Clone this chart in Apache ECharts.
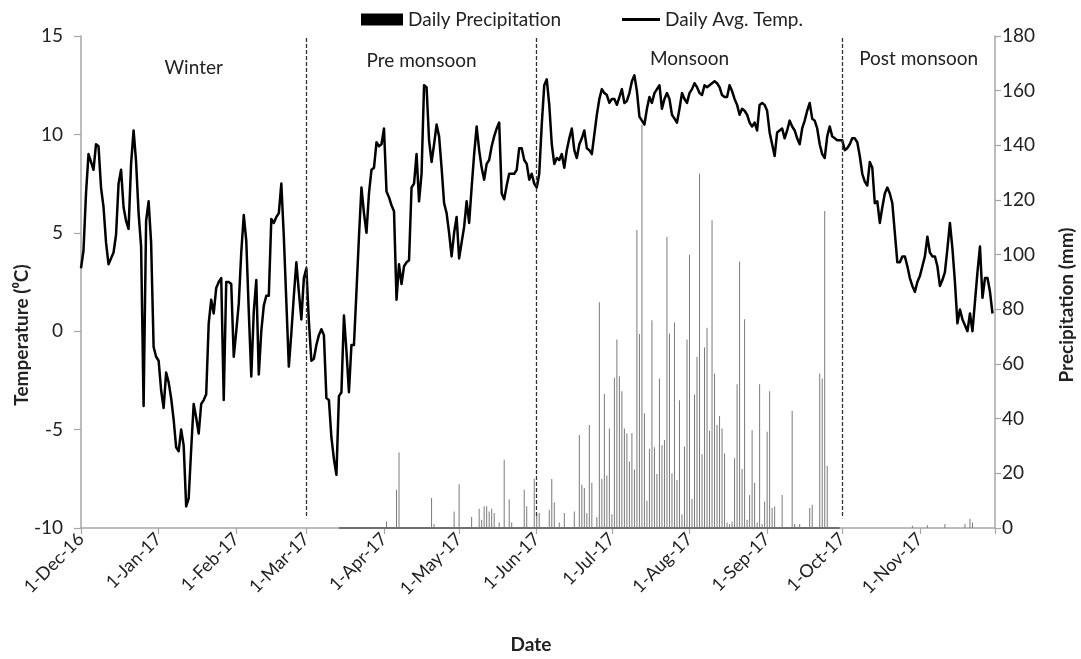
<!DOCTYPE html>
<html><head><meta charset="utf-8">
<script src="https://cdn.jsdelivr.net/npm/echarts@6/dist/echarts.min.js"></script>
<style>html,body{margin:0;padding:0;background:#fff}#c{width:1081px;height:659px}</style>
</head><body><div id="c"></div>
<script>
// ---- categories (daily dates, 1-Dec-16 .. 1-Dec-17) ----
const monthNames = ['Jan','Feb','Mar','Apr','May','Jun','Jul','Aug','Sep','Oct','Nov','Dec'];
const startDate = Date.UTC(2016, 11, 1);
const dayCount = 366;
const categories = [];
for (let i = 0; i < dayCount; i++) {
  const dt = new Date(startDate + i * 86400000);
  categories.push(dt.getUTCDate() + '-' + monthNames[dt.getUTCMonth()] + '-' + String(dt.getUTCFullYear()).slice(2));
}

// ---- daily average temperature (°C) ----
const tempDec = [3.2,4.1,7.0,9.0,8.6,8.2,9.5,9.4,7.3,6.3,4.5,3.4,3.7,4.0,4.9,7.5,8.2,6.3,5.6,5.2,8.5,10.2,8.6,6.0,4.3,-3.8,5.6,6.6,4.5,-0.8,-1.3];
const tempJan = [-1.5,-3.0,-3.9,-2.1,-2.6,-3.4,-4.5,-5.9,-6.1,-5.0,-5.8,-8.9,-8.5,-6.0,-3.7,-4.4,-5.2,-3.7,-3.5,-3.2,0.4,1.6,0.9,2.2,2.5,2.7,-3.5,2.5,2.5,2.4,-1.3];
const tempFeb = [0.0,1.4,4.0,5.9,4.6,1.0,-2.3,1.0,2.6,-2.2,0.0,1.3,1.8,1.8,5.7,5.5,5.8,6.0,7.5,4.8,1.5,-1.8,-0.1,1.8,3.5,2.0,0.6,2.7];
const tempMar = [3.2,0.5,-1.5,-1.4,-0.7,-0.2,0.1,-0.2,-3.4,-3.5,-5.4,-6.5,-7.3,-3.3,-3.1,0.8,-1.0,-3.1,-0.7,-0.7,2.0,4.8,7.3,6.0,5.0,7.0,8.2,8.3,9.6,9.4,9.5];
const tempApr = [10.3,7.1,6.8,6.4,6.1,1.6,3.4,2.4,3.3,3.5,3.6,7.3,7.5,9.0,6.6,8.0,12.5,12.4,9.7,8.6,9.5,10.5,9.9,8.3,6.5,6.0,5.0,3.8,5.0,5.8];
const tempMay = [3.7,4.5,5.3,6.6,5.5,7.3,9.0,10.4,9.2,8.3,7.7,8.5,8.7,9.4,9.9,10.3,10.6,7.0,6.7,7.4,8.0,8.0,8.0,8.2,9.3,9.3,8.7,8.5,7.7,8.0,7.5];
const tempJun = [7.3,8.0,10.5,12.5,12.8,11.5,9.5,8.5,8.8,8.7,9.0,8.3,9.2,9.8,10.3,9.2,8.8,9.5,9.8,10.2,9.3,9.2,9.0,10.0,11.0,11.8,12.3,12.1,12.0,11.6];
const tempJul = [11.8,11.8,11.5,11.9,12.3,11.6,11.7,12.1,12.7,13.0,12.2,10.9,10.7,10.5,11.3,11.9,11.6,12.1,12.3,12.5,11.3,11.8,12.1,11.8,11.0,10.8,10.6,11.3,12.1,11.8,11.6];
const tempAug = [12.1,12.3,12.6,12.4,12.1,12.0,12.5,12.4,12.5,12.6,12.7,12.6,12.4,12.0,11.9,11.9,12.5,12.2,11.8,11.5,11.0,11.3,11.2,11.0,10.6,10.4,10.6,10.2,11.5,11.6,11.5];
const tempSep = [11.2,10.1,9.5,8.9,10.1,10.2,10.3,9.8,10.2,10.7,10.4,10.2,9.8,9.5,10.3,10.7,11.2,11.6,10.8,10.7,10.3,9.5,9.0,8.8,9.9,10.4,9.9,9.8,9.7,9.7];
const tempOct = [9.7,9.2,9.3,9.5,9.8,9.8,9.6,8.9,8.0,7.6,7.4,8.6,8.3,6.5,6.6,5.5,6.3,7.0,7.3,7.0,6.5,5.0,3.5,3.5,3.8,3.8,3.3,2.7,2.3,2.0,2.5];
const tempNov = [2.8,3.3,3.8,4.8,4.0,3.8,3.8,3.3,2.3,2.6,3.0,4.2,5.5,4.2,2.5,0.4,1.1,0.6,0.3,0.0,0.9,0.0,1.5,3.0,4.3,1.7,2.7,2.7,2.0,0.9];

// ---- daily precipitation (mm); null = no record ----
const precDec = new Array(31).fill(null);
const precJan = new Array(31).fill(null);
const precFeb = new Array(28).fill(null);
const precMar = [null,null,null,null,null,null,null,null,null,null,null,null,null,0,0,0,0,0,0,0,0,0,0,0,0,0,0,0,0,0,0];
const precApr = [0,2.4,0,0,0,14,27.6,0,0,0,0,0,0,0,0,0,0,0,0,11,1.5,0,0,0,0,0,0,0,6,0];
const precMay = [16,0,0,0,0,4,0,0,7,3,8,8,6,7,5.5,0,2,0,25,0,10.5,2,0,0,0,0,14,8,0,0,18];
const precJun = [5,5.5,0,0,0,6.7,17.9,9.4,0,2,0,5.5,0,0,0,6,0,34,15.8,14.6,5.5,37.7,16.6,0,4,82.6,18,49,19.2,36.4];
const precJul = [5,55,69,55.5,50,36.4,34.6,24.3,34.8,21.4,109,71,147.5,42,10,29,76,29.5,19.8,54.7,30.3,32.2,106.5,71.2,20,75.2,17.6,46.7,5,29.8,69];
const precAug = [100,10.6,48.8,62.6,129.6,27,66,73.3,35.6,112.6,56.5,37.7,41,36.4,27.3,2,1.5,2.4,25.5,52.6,97.5,21.6,76.4,3,12.1,35.8,16.6,2,52.6,1.5,9.7];
const precSep = [35.2,50,7.3,7.9,0,0,12.1,0,0,0,42.9,1.5,0,1.5,0,0,0,7.3,8.5,0,0,56.5,54.7,116,22.7,0,0,0,0,0];
const precOct = [null,null,null,null,null,null,null,null,null,null,null,null,null,null,null,null,null,null,null,null,null,null,null,null,null,null,null,null,0.8,null,null];
const precNov = [null,null,null,1.0,null,null,null,null,null,null,1.5,null,null,null,null,null,null,null,1.5,null,3.4,2.0,null,null,null,null,null,null,null,null];

const temperature = [].concat(tempDec,tempJan,tempFeb,tempMar,tempApr,tempMay,tempJun,tempJul,tempAug,tempSep,tempOct,tempNov);
const precipitation = [].concat(precDec,precJan,precFeb,precMar,precApr,precMay,precJun,precJul,precAug,precSep,precOct,precNov);

// ---- seasons ----
const seasonNames = ['Winter','Pre monsoon','Monsoon','Post monsoon'];
const seasonBounds = ['1-Dec-16','1-Mar-17','1-Jun-17','1-Oct-17','1-Dec-17'];
const seasonLabelDistance = [22, 15, 13, 13];
const dividerDates = ['1-Mar-17','1-Jun-17','1-Oct-17'];
const recordSpan = ['14-Mar-17','30-Sep-17'];

const FONT = 'Lato';
const chart = echarts.init(document.getElementById('c'), null, {renderer:'canvas'});
const isMonthStart = (i, v) => v.indexOf('1-') === 0;

chart.setOption({
  animation: false,
  backgroundColor: '#fff',
  textStyle: {fontFamily: FONT},
  grid: {left: 81, right: 86, top: 36, bottom: 131},
  legend: [
    {data: [{name: 'Daily Precipitation', icon: 'rect', itemStyle: {color: '#000'}}],
     left: 361, top: 10, padding: 0, itemWidth: 42, itemHeight: 12,
     textStyle: {fontFamily: FONT, fontSize: 19, color: '#222'}},
    {data: [{name: 'Daily Avg. Temp.', icon: 'rect', itemStyle: {color: '#000'}}],
     left: 622, top: 10, padding: 0, itemWidth: 38, itemHeight: 3,
     textStyle: {fontFamily: FONT, fontSize: 19, color: '#222'}}
  ],
  xAxis: {
    type: 'category', data: categories, boundaryGap: false,
    axisLine: {onZero: false, lineStyle: {color: '#a6a6a6', width: 1.5}},
    axisTick: {interval: isMonthStart, length: 6, lineStyle: {color: '#a6a6a6', width: 1.2}},
    axisLabel: {interval: (i, v) => isMonthStart(i, v) && i < dayCount - 1, rotate: 45,
                fontFamily: FONT, fontSize: 18, color: '#222', margin: 8},
    splitLine: {show: false}
  },
  yAxis: [
    {type: 'value', min: -10, max: 15, interval: 5,
     axisLine: {show: true, lineStyle: {color: '#a6a6a6', width: 1.5}},
     axisTick: {show: true, length: 7, lineStyle: {color: '#a6a6a6', width: 1.2}},
     axisLabel: {fontFamily: FONT, fontSize: 19, color: '#222', margin: 18},
     splitLine: {show: false}},
    {type: 'value', min: 0, max: 180, interval: 20, position: 'right',
     axisLine: {show: true, lineStyle: {color: '#a6a6a6', width: 1.5}},
     axisTick: {show: true, length: 6, lineStyle: {color: '#a6a6a6', width: 1.2}},
     axisLabel: {fontFamily: FONT, fontSize: 19, color: '#222', margin: 7},
     splitLine: {show: false}}
  ],
  graphic: [
    {type: 'text', x: 22, y: 335, rotation: Math.PI / 2,
     style: {text: 'Temperature (\u2070C)', fontFamily: FONT, fontWeight: 'bold', fontSize: 19, fill: '#222', align: 'center', verticalAlign: 'middle'}},
    {type: 'text', x: 1067, y: 305, rotation: Math.PI / 2,
     style: {text: 'Precipitation (mm)', fontFamily: FONT, fontWeight: 'bold', fontSize: 19, fill: '#222', align: 'center', verticalAlign: 'middle'}},
    {type: 'text', x: 531, y: 645,
     style: {text: 'Date', fontFamily: FONT, fontWeight: 'bold', fontSize: 19, fill: '#222', align: 'center', verticalAlign: 'middle'}}
  ],
  series: [
    {name: 'Daily Precipitation', type: 'bar', yAxisIndex: 1, data: precipitation,
     barWidth: 1, itemStyle: {color: '#7a7a7a'}, z: 2,
     markLine: {silent: true, symbol: ['none','none'], label: {show: false},
                lineStyle: {color: '#707070', width: 2, type: 'solid'},
                data: [[{coord: [recordSpan[0], 0]}, {coord: [recordSpan[1], 0]}]]}},
    {name: 'Daily Avg. Temp.', type: 'line', data: temperature, symbol: 'none', showSymbol: false,
     lineStyle: {color: '#000', width: 2.5, join: 'round'}, itemStyle: {color: '#000'}, z: 3,
     markLine: {silent: true, symbol: ['none','none'], label: {show: false},
                lineStyle: {color: '#333', width: 1.3, type: [4, 2]},
                data: dividerDates.map(d => [{coord: [d, 14.9]}, {coord: [d, -9.5]}])},
     markArea: {silent: true, itemStyle: {color: 'rgba(0,0,0,0)'},
                label: {show: true, position: 'insideTop', fontFamily: FONT, fontSize: 19, color: '#222'},
                data: seasonNames.map((n, k) => [
                  {name: n, xAxis: seasonBounds[k], label: {distance: seasonLabelDistance[k]}},
                  {xAxis: seasonBounds[k + 1]}
                ])}}
  ]
});
</script></body></html>
